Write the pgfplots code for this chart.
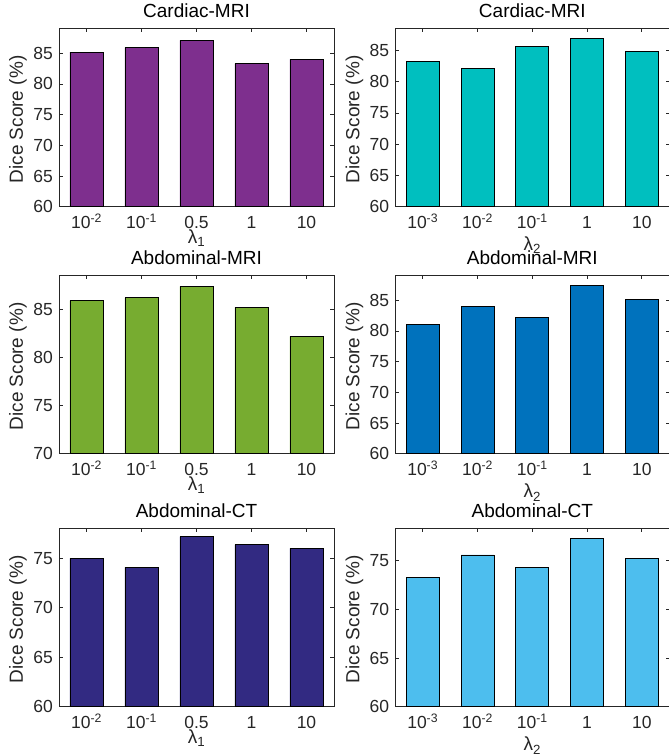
\documentclass[border=0pt]{standalone}
\usepackage{fontspec}
\setmainfont{Liberation Sans}
\usepackage{pgfplots}
\pgfplotsset{compat=1.18}
\definecolor{axgray}{RGB}{38,38,38}
\definecolor{cpurple}{RGB}{126,47,142}
\definecolor{ccyan}{RGB}{0,191,191}
\definecolor{cgreen}{RGB}{119,172,48}
\definecolor{cblue}{RGB}{0,114,189}
\definecolor{cnavy}{RGB}{50,42,130}
\definecolor{clight}{RGB}{77,190,238}
\pgfplotsset{
  panel/.style={
    scale only axis, height=178pt, anchor=south west,
    xmin=0.5, xmax=5.5, xtick={1,2,3,4,5},
    tick align=inside, major tick length=3.5pt,
    axis line style={axgray, line width=0.8pt},
    every tick/.style={axgray, line width=0.8pt},
    tick label style={font=\fontsize{17.5}{20}\selectfont, text=axgray},
    /pgf/number format/assume math mode=true,
    xticklabel style={anchor=base, inner sep=0pt, yshift=-22pt},
    yticklabel style={anchor=east, inner sep=0pt, xshift=-6pt},
    ylabel={Dice Score (\%)},
    ylabel style={at={(axis description cs:-0.149,0.49)}, anchor=center, font=\fontsize{19}{22}\selectfont, text=axgray},
    title style={at={(axis description cs:0.5,1)}, anchor=base, inner sep=0pt, yshift=5pt, font=\fontsize{19}{22}\selectfont},
    bar width=0.6, bar shift=0pt,
  },
  leftp/.style={panel, width=275pt,
    xticklabels={10\textsuperscript{-2},10\textsuperscript{-1},0.5,1,10},
    xlabel={λ\textsubscript{1}},
    xlabel style={at={(axis description cs:0.5,0)}, anchor=north, inner sep=0pt, yshift=-23pt, font=\fontsize{19}{22}\selectfont, text=axgray}},
  rightp/.style={panel, width=274pt,
    xticklabels={10\textsuperscript{-3},10\textsuperscript{-2},10\textsuperscript{-1},1,10},
    xlabel={λ\textsubscript{2}},
    xlabel style={at={(axis description cs:0.5,0)}, anchor=north, inner sep=0pt, yshift=-30pt, font=\fontsize{19}{22}\selectfont, text=axgray}},
}
\begin{document}
\begin{tikzpicture}
\useasboundingbox (0,0) rectangle (669pt,756pt);
% Row 1
\begin{axis}[leftp, at={(59pt,549.3pt)}, ymin=60, ymax=89, ytick={60,65,70,75,80,85}, title={Cardiac-MRI}]
\addplot[ybar, fill=cpurple, draw=black, line width=0.8pt] coordinates {(1,85.2) (2,85.9) (3,87.1) (4,83.3) (5,84.0)};
\end{axis}
\begin{axis}[rightp, at={(395.3pt,549.3pt)}, ymin=60, ymax=88.5, ytick={60,65,70,75,80,85}, title={Cardiac-MRI}]
\addplot[ybar, fill=ccyan, draw=black, line width=0.8pt] coordinates {(1,83.2) (2,82.1) (3,85.7) (4,87.0) (5,84.8)};
\end{axis}
% Row 2
\begin{axis}[leftp, at={(59pt,302.3pt)}, ymin=70, ymax=88.5, ytick={70,75,80,85}, title={Abdominal-MRI}]
\addplot[ybar, fill=cgreen, draw=black, line width=0.8pt] coordinates {(1,85.9) (2,86.2) (3,87.4) (4,85.2) (5,82.2)};
\end{axis}
\begin{axis}[rightp, at={(395.3pt,302.3pt)}, ymin=60, ymax=89, ytick={60,65,70,75,80,85}, title={Abdominal-MRI}]
\addplot[ybar, fill=cblue, draw=black, line width=0.8pt] coordinates {(1,81.1) (2,84.0) (3,82.2) (4,87.4) (5,85.2)};
\end{axis}
% Row 3
\begin{axis}[leftp, at={(59pt,49.3pt)}, ymin=60, ymax=78, ytick={60,65,70,75}, title={Abdominal-CT}]
\addplot[ybar, fill=cnavy, draw=black, line width=0.8pt] coordinates {(1,75.0) (2,74.1) (3,77.2) (4,76.4) (5,76.0)};
\end{axis}
\begin{axis}[rightp, at={(395.3pt,49.3pt)}, ymin=60, ymax=78.3, ytick={60,65,70,75}, title={Abdominal-CT}]
\addplot[ybar, fill=clight, draw=black, line width=0.8pt] coordinates {(1,73.3) (2,75.6) (3,74.3) (4,77.3) (5,75.2)};
\end{axis}
\end{tikzpicture}
\end{document}
